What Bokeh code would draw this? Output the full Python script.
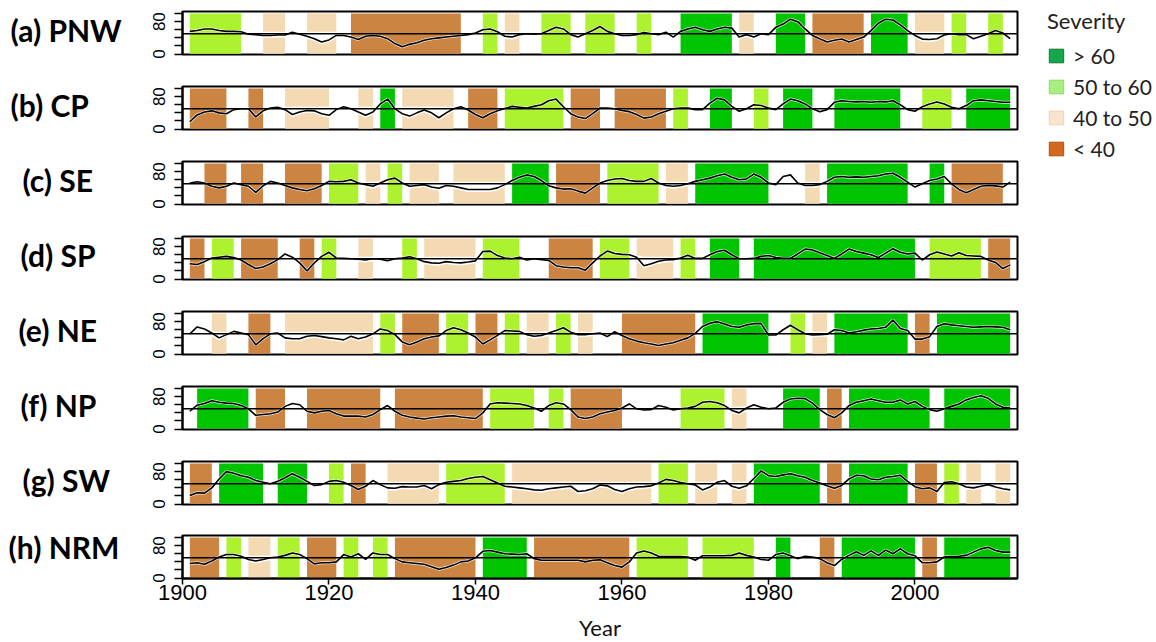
from bokeh.plotting import figure
from bokeh.layouts import row, column
from bokeh.models import ColumnDataSource, Span, FixedTicker, Legend, LegendItem, Range1d
from bokeh.core.properties import value
from bokeh.embed import file_html
from bokeh.resources import INLINE

# ---------------- data ----------------
years = list(range(1901, 2014))

region_labels = ["(a) PNW", "(b) CP", "(c) SE", "(d) SP", "(e)  NE", "(f)  NP", "(g) SW", "(h) NRM"]

severity_classes = ["> 60", "50 to 60", "40 to 50", "< 40"]
class_codes = ["G", "Y", "T", "B"]

x_ticks = [1900, 1920, 1940, 1960, 1980, 2000]

# periods: (start year, end year, severity class code)
pnw_periods = [(1901, 1908, "Y"), (1911, 1914, "T"), (1917, 1921, "T"), (1923, 1938, "B"), (1941, 1943, "Y"),
               (1944, 1946, "T"), (1949, 1953, "Y"), (1955, 1959, "Y"), (1962, 1964, "Y"), (1968, 1975, "G"),
               (1976, 1978, "T"), (1981, 1985, "G"), (1986, 1993, "B"), (1994, 1999, "G"), (2000, 2004, "T"),
               (2005, 2007, "Y"), (2010, 2012, "Y")]
cp_periods = [(1901, 1906, "B"), (1909, 1911, "B"), (1914, 1920, "T"), (1924, 1926, "T"), (1927, 1929, "G"),
              (1930, 1937, "T"), (1939, 1943, "B"), (1944, 1952, "Y"), (1953, 1957, "B"), (1959, 1966, "B"),
              (1967, 1969, "Y"), (1972, 1975, "G"), (1978, 1980, "Y"), (1982, 1986, "G"), (1989, 1998, "G"),
              (2001, 2005, "Y"), (2007, 2013, "G")]
se_periods = [(1903, 1906, "B"), (1908, 1911, "B"), (1914, 1919, "B"), (1920, 1924, "Y"), (1925, 1927, "T"),
              (1928, 1930, "Y"), (1931, 1935, "T"), (1937, 1944, "T"), (1945, 1950, "G"), (1951, 1957, "B"),
              (1958, 1965, "Y"), (1966, 1969, "T"), (1970, 1980, "G"), (1985, 1987, "T"), (1988, 1999, "G"),
              (2002, 2004, "G"), (2005, 2012, "B")]
sp_periods = [(1901, 1903, "B"), (1904, 1907, "Y"), (1908, 1913, "B"), (1916, 1918, "B"), (1919, 1921, "Y"),
              (1924, 1926, "T"), (1930, 1932, "Y"), (1933, 1940, "T"), (1941, 1946, "Y"), (1950, 1956, "B"),
              (1957, 1961, "Y"), (1962, 1967, "T"), (1968, 1970, "Y"), (1972, 1976, "G"), (1978, 2000, "G"),
              (2002, 2009, "Y"), (2010, 2013, "B")]
ne_periods = [(1904, 1906, "T"), (1909, 1912, "B"), (1914, 1926, "T"), (1927, 1929, "Y"), (1930, 1935, "B"),
              (1936, 1939, "Y"), (1940, 1943, "B"), (1944, 1946, "Y"), (1947, 1950, "T"), (1951, 1953, "Y"),
              (1954, 1956, "T"), (1960, 1970, "B"), (1971, 1980, "G"), (1983, 1985, "Y"), (1986, 1988, "T"),
              (1989, 1999, "G"), (2000, 2002, "B"), (2003, 2013, "G")]
np_periods = [(1902, 1909, "G"), (1910, 1914, "B"), (1917, 1927, "B"), (1929, 1941, "B"), (1942, 1948, "Y"),
              (1950, 1952, "Y"), (1953, 1960, "B"), (1968, 1974, "Y"), (1975, 1977, "T"), (1982, 1987, "G"),
              (1988, 1990, "B"), (1991, 2002, "G"), (2004, 2013, "G")]
sw_periods = [(1901, 1904, "B"), (1905, 1911, "G"), (1913, 1917, "G"), (1920, 1922, "Y"), (1923, 1925, "B"),
              (1928, 1935, "T"), (1936, 1944, "Y"), (1945, 1964, "T"), (1965, 1969, "Y"), (1970, 1973, "T"),
              (1975, 1977, "T"), (1978, 1987, "G"), (1988, 1990, "B"), (1991, 1999, "G"), (2000, 2003, "B"),
              (2004, 2006, "Y"), (2007, 2009, "T"), (2011, 2013, "T")]
nrm_periods = [(1901, 1905, "B"), (1906, 1908, "Y"), (1909, 1912, "T"), (1913, 1916, "Y"), (1917, 1921, "B"),
               (1922, 1924, "Y"), (1926, 1928, "Y"), (1929, 1940, "B"), (1941, 1947, "G"), (1948, 1961, "B"),
               (1962, 1969, "Y"), (1971, 1978, "Y"), (1981, 1983, "G"), (1987, 1989, "B"), (1990, 2000, "G"),
               (2001, 2003, "B"), (2004, 2013, "G")]

# yearly severity 1901-2013
pnw_severity = [56, 58, 62, 62, 58, 56, 56, 55, 49, 48,
                46, 46, 47, 47, 54, 49, 44, 38, 30, 35,
                46, 46, 42, 36, 44, 46, 44, 38, 26, 18,
                24, 28, 34, 38, 40, 42, 44, 46, 48, 52,
                60, 62, 55, 44, 42, 48, 50, 49, 50, 58,
                66, 62, 48, 42, 50, 58, 68, 56, 50, 46,
                46, 48, 53, 50, 48, 54, 42, 56, 62, 66,
                60, 56, 62, 66, 64, 42, 48, 42, 50, 48,
                66, 74, 86, 80, 62, 46, 38, 30, 34, 37,
                30, 36, 42, 58, 76, 86, 84, 72, 58, 46,
                37, 36, 38, 47, 50, 48, 48, 38, 44, 50,
                58, 52, 38]
cp_severity = [18, 35, 42, 45, 40, 38, 48, 50, 50, 30,
               45, 52, 54, 48, 36, 42, 46, 45, 38, 34,
               48, 55, 50, 42, 34, 42, 62, 74, 50, 38,
               32, 40, 47, 40, 28, 40, 50, 55, 47, 36,
               28, 38, 45, 51, 56, 54, 52, 56, 60, 70,
               74, 55, 38, 30, 26, 38, 52, 52, 50, 46,
               43, 36, 27, 30, 38, 44, 50, 52, 52, 48,
               48, 64, 76, 72, 56, 44, 50, 60, 58, 52,
               48, 62, 74, 70, 62, 50, 43, 48, 66, 70,
               68, 67, 68, 66, 68, 67, 70, 60, 48, 44,
               55, 62, 67, 62, 54, 50, 58, 70, 72, 70,
               68, 66, 66]
se_severity = [52, 55, 52, 44, 40, 44, 52, 48, 44, 29,
               45, 56, 52, 46, 40, 36, 33, 38, 46, 56,
               55, 56, 60, 52, 48, 44, 52, 60, 64, 52,
               44, 46, 48, 42, 39, 46, 44, 40, 36, 36,
               36, 36, 40, 48, 58, 66, 72, 68, 58, 45,
               40, 37, 38, 32, 27, 40, 52, 58, 62, 63,
               58, 56, 56, 63, 52, 46, 44, 46, 50, 56,
               60, 64, 70, 74, 66, 60, 62, 74, 66, 52,
               48, 68, 72, 52, 46, 46, 48, 56, 66, 68,
               66, 67, 66, 68, 70, 74, 76, 66, 54, 42,
               50, 58, 62, 68, 50, 36, 28, 36, 44, 46,
               45, 42, 54]
sp_severity = [38, 36, 43, 52, 54, 56, 53, 47, 36, 26,
               30, 38, 48, 62, 54, 40, 20, 40, 56, 66,
               52, 51, 50, 49, 47, 50, 49, 45, 50, 52,
               55, 50, 43, 40, 39, 43, 41, 40, 42, 45,
               68, 69, 58, 52, 50, 54, 47, 50, 48, 46,
               33, 30, 28, 28, 22, 40, 57, 69, 63, 61,
               60, 54, 33, 38, 44, 47, 48, 52, 59, 51,
               51, 60, 68, 71, 60, 50, 50, 51, 56, 58,
               53, 51, 51, 62, 74, 72, 65, 58, 51, 62,
               74, 68, 64, 60, 53, 64, 75, 66, 62, 64,
               47, 60, 67, 62, 57, 65, 58, 57, 56, 47,
               41, 26, 35]
ne_severity = [50, 67, 62, 52, 40, 48, 56, 52, 48, 23,
               38, 50, 52, 40, 38, 38, 44, 46, 43, 40,
               38, 35, 44, 38, 42, 50, 62, 58, 48, 30,
               23, 30, 38, 42, 45, 58, 65, 60, 52, 42,
               25, 35, 46, 58, 57, 56, 48, 44, 46, 52,
               58, 65, 54, 48, 48, 50, 52, 43, 55, 46,
               38, 32, 28, 25, 21, 25, 28, 34, 40, 51,
               68, 76, 80, 74, 68, 66, 72, 75, 75, 47,
               47, 60, 71, 60, 50, 47, 48, 49, 60, 58,
               52, 55, 59, 62, 63, 66, 84, 63, 58, 37,
               37, 43, 68, 75, 72, 70, 68, 66, 67, 68,
               67, 66, 60]
np_severity = [44, 59, 63, 70, 66, 64, 63, 58, 50, 34,
               36, 38, 42, 56, 63, 60, 44, 40, 44, 46,
               38, 32, 32, 32, 30, 36, 48, 58, 44, 34,
               30, 27, 25, 28, 30, 32, 33, 30, 28, 26,
               40, 62, 65, 64, 63, 62, 58, 52, 44, 58,
               65, 62, 48, 30, 26, 30, 38, 42, 46, 52,
               62, 50, 47, 48, 58, 54, 47, 50, 52, 56,
               66, 68, 65, 58, 46, 40, 52, 60, 54, 50,
               52, 66, 74, 76, 75, 64, 48, 36, 28, 40,
               58, 66, 70, 74, 70, 66, 66, 72, 62, 68,
               56, 48, 44, 50, 56, 62, 72, 78, 82, 76,
               62, 54, 52]
sw_severity = [21, 28, 27, 40, 62, 80, 76, 70, 66, 58,
               54, 50, 56, 65, 75, 66, 56, 46, 48, 56,
               58, 54, 46, 36, 44, 58, 48, 40, 39, 43,
               42, 42, 46, 38, 48, 54, 56, 58, 63, 66,
               68, 60, 52, 44, 42, 40, 38, 35, 34, 38,
               40, 42, 44, 31, 33, 38, 47, 45, 36, 31,
               38, 42, 43, 45, 52, 61, 58, 53, 50, 47,
               35, 42, 54, 58, 44, 39, 45, 63, 82, 70,
               68, 72, 75, 70, 66, 58, 52, 45, 39, 46,
               62, 71, 70, 62, 60, 66, 68, 71, 56, 43,
               38, 40, 31, 53, 55, 50, 42, 40, 44, 48,
               42, 38, 35]
nrm_severity = [36, 38, 34, 42, 52, 58, 58, 54, 46, 42,
                46, 50, 52, 56, 62, 58, 48, 35, 38, 38,
                40, 58, 52, 60, 46, 62, 58, 58, 48, 40,
                38, 36, 34, 28, 22, 26, 32, 40, 42, 50,
                66, 68, 64, 60, 59, 58, 60, 48, 44, 44,
                44, 44, 44, 44, 40, 44, 45, 38, 31, 27,
                40, 62, 67, 62, 54, 53, 53, 53, 52, 44,
                55, 55, 55, 55, 56, 62, 56, 52, 46, 44,
                58, 62, 55, 48, 54, 52, 48, 38, 31, 46,
                56, 65, 56, 67, 56, 69, 60, 72, 60, 55,
                38, 38, 40, 52, 53, 54, 56, 64, 72, 76,
                68, 64, 64]

all_periods = [pnw_periods, cp_periods, se_periods, sp_periods, ne_periods, np_periods, sw_periods, nrm_periods]
all_severity = [pnw_severity, cp_severity, se_severity, sp_severity, ne_severity, np_severity, sw_severity,
                nrm_severity]

# ---------------- style ----------------
BLOCK_COLORS = {"G": "#00c400", "Y": "#adf22f", "T": "#f4dab2", "B": "#cc8442"}
LEGEND_FILL = ["#17a64b", "#a8ee80", "#fbe4cd", "#d2691e"]
LEGEND_EDGE = ["#0d7a35", "#8fd86a", "#ecd3b8", "#a8501a"]
LABEL_LEFT = [10, 10, 22, 20, 18, 20, 22, 8]
LABEL_FONT = value("Lato")
FRAME_W = 835
FRAME_H = 43

rows = []
n = len(region_labels)
for i in range(n):
    last = (i == n - 1)
    top_b = 10 if last else 11
    bot_b = 64 if last else 21
    fig_h = top_b + FRAME_H + bot_b

    periods = all_periods[i]
    sev = all_severity[i]

    p = figure(frame_width=FRAME_W, frame_height=FRAME_H,
               x_range=Range1d(1900, 2014), y_range=Range1d(-1, 105),
               output_backend="svg", toolbar_location=None,
               x_axis_location="below" if last else None, y_axis_location="left",
               min_border_left=52, min_border_right=10, min_border_top=top_b, min_border_bottom=bot_b,
               outline_line_color="black", outline_line_width=2, background_fill_color="white")
    p.grid.visible = False

    blk = ColumnDataSource(dict(
        left=[s for s, e, c in periods],
        right=[e for s, e, c in periods],
        color=[BLOCK_COLORS[c] for s, e, c in periods],
    ))
    p.quad(left="left", right="right", bottom=1, top=100, fill_color="color", line_color=None, source=blk)

    # white band around the curve inside the 40-50 periods
    for s, e, c in periods:
        if c != "T":
            continue
        xs = [y for y in years if s <= y <= e]
        vs = [sev[y - years[0]] for y in xs]
        p.varea(x=xs, y1=[min(v, 50) - 6 for v in vs], y2=[max(v, 50) + 5 for v in vs],
                fill_color="white")

    p.line(years, sev, line_color="white", line_width=3, line_alpha=0.8)
    p.line(years, sev, line_color="black", line_width=1.6)
    p.add_layout(Span(location=50, dimension="width", line_color="black", line_width=1.6))

    ya = p.yaxis[0]
    ya.ticker = FixedTicker(ticks=[0, 20, 40, 60, 80, 100])
    ya.major_label_overrides = {20: "", 40: "", 60: "", 100: ""}
    ya.major_label_orientation = "vertical"
    ya.major_label_text_font = "Liberation Sans"
    ya.major_label_text_font_size = "17px"
    ya.major_label_text_color = "black"
    ya.major_label_standoff = 9
    ya.major_tick_out = 8
    ya.major_tick_in = 0
    ya.major_tick_line_width = 1.5
    ya.major_tick_line_color = "black"
    ya.minor_tick_line_color = None
    ya.axis_line_color = "black"
    ya.axis_line_width = 2

    if last:
        xa = p.xaxis[0]
        xa.ticker = FixedTicker(ticks=x_ticks)
        xa.major_label_text_font = "Liberation Sans"
        xa.major_label_text_font_size = "22px"
        xa.major_label_text_color = "black"
        xa.major_label_standoff = 0
        xa.major_tick_out = 6
        xa.major_tick_in = 0
        xa.major_tick_line_width = 1.5
        xa.major_tick_line_color = "black"
        xa.minor_tick_line_color = None
        xa.axis_line_color = "black"
        xa.axis_line_width = 2
        xa.axis_label = "Year"
        xa.axis_label_text_font = "Lato"
        xa.axis_label_text_font_style = "normal"
        xa.axis_label_text_font_size = "22px"
        xa.axis_label_text_color = "#111111"
        xa.axis_label_standoff = 11

    lf = figure(width=130, height=fig_h, x_range=Range1d(0, 130), y_range=Range1d(0, fig_h),
                output_backend="svg", toolbar_location=None,
                x_axis_location=None, y_axis_location=None, min_border=0,
                outline_line_color=None)
    lf.grid.visible = False
    lf.text(x=[LABEL_LEFT[i]], y=[fig_h - top_b - FRAME_H / 2], text=[region_labels[i]],
            text_font=LABEL_FONT, text_font_style="bold", text_font_size="30px",
            text_align="left", text_baseline="middle", text_color="black")

    rows.append(row(lf, p, spacing=0))

# legend figure
lg = figure(width=129, height=200, x_range=Range1d(0, 1), y_range=Range1d(0, 1),
            output_backend="svg", toolbar_location=None,
            x_axis_location=None, y_axis_location=None,
            min_border_left=20, min_border_top=7, min_border_right=0, min_border_bottom=0,
            outline_line_color=None)
lg.grid.visible = False
items = []
for lab, fc, ec in zip(severity_classes, LEGEND_FILL, LEGEND_EDGE):
    # swatch renderer placed outside the visible range; only its legend glyph shows
    r = lg.quad(left=[5], right=[6], top=[6], bottom=[5], fill_color=fc, line_color=ec, line_width=1)
    items.append(LegendItem(label=lab, renderers=[r]))
leg = Legend(items=items, title="Severity", location="top_left", margin=0, padding=0,
             border_line_color=None, background_fill_alpha=0,
             title_text_font="Lato", title_text_font_size="22px", title_text_font_style="normal",
             title_text_color="#222222", title_standoff=9,
             label_text_font="Lato", label_text_font_size="21px", label_text_color="#222222",
             label_standoff=8, glyph_width=18, glyph_height=17, label_height=17, spacing=6)
lg.add_layout(leg)

layout = row(column(*rows, spacing=0), lg, spacing=0)

open("out.html", "w").write(file_html(layout, INLINE))
